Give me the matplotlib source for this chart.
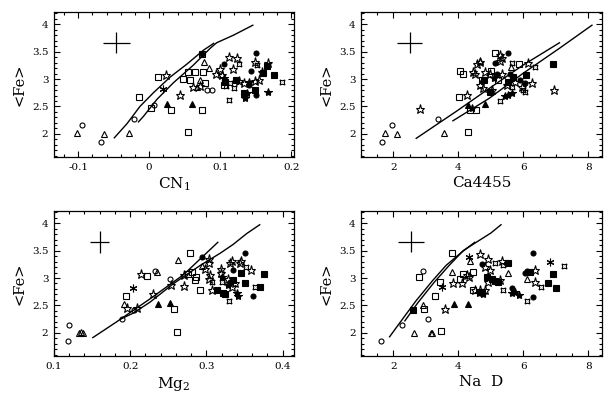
import matplotlib
matplotlib.use('Agg')
import matplotlib.pyplot as plt
from matplotlib.ticker import MultipleLocator

plt.rcParams['font.family'] = 'DejaVu Serif'

# ---- CN1 panel ----
cn1_open_circle = [(-0.068, 1.85), (-0.095, 2.16), (-0.022, 2.27), (0.007, 2.52), (0.082, 2.80), (0.088, 2.80)]
cn1_open_tri = [(-0.101, 2.01), (-0.064, 2.00), (-0.029, 2.01), (0.077, 3.31), (0.084, 3.20), (0.072, 2.98), (0.068, 2.86)]
cn1_fill_tri = [(0.025, 2.55), (0.060, 2.55)]
cn1_open_sq = [(-0.014, 2.68), (0.013, 3.04), (0.048, 3.00), (0.055, 3.12), (0.058, 2.99), (0.065, 3.13),
               (0.076, 3.13), (0.075, 3.46), (0.074, 2.44), (0.055, 2.03), (0.031, 2.43), (0.079, 2.93),
               (0.003, 2.47), (0.105, 2.89)]
cn1_open_star = [(0.024, 3.08), (0.043, 2.71), (0.062, 2.86), (0.071, 2.87), (0.094, 3.10), (0.100, 3.18),
                 (0.112, 3.41), (0.118, 3.18), (0.124, 3.38), (0.149, 3.31), (0.159, 3.13), (0.155, 2.98),
                 (0.127, 2.97), (0.133, 2.92), (0.102, 3.07), (0.149, 2.97), (0.167, 3.30)]
cn1_fill_star = [(0.167, 2.77), (0.138, 2.74), (0.135, 2.65), (0.141, 2.95), (0.105, 3.01)]
cn1_asterisk = [(0.019, 2.82)]
cn1_fill_circle = [(0.075, 3.45), (0.105, 3.27), (0.151, 3.47), (0.143, 3.15), (0.151, 2.71), (0.140, 2.89)]
cn1_fill_sq = [(0.107, 2.95), (0.166, 3.24), (0.161, 3.11), (0.176, 3.07), (0.149, 2.80), (0.133, 2.74), (0.122, 2.98)]
cn1_cross = [(0.126, 3.27), (0.187, 2.95), (0.114, 2.92), (0.119, 2.83), (0.113, 2.61), (0.152, 3.25), (0.108, 2.88)]
cn1_model_a = ([-0.049, -0.031, -0.013, 0.006, 0.030, 0.053, 0.077, 0.091],
               [1.93, 2.19, 2.50, 2.75, 3.04, 3.27, 3.53, 3.65])
cn1_model_b = ([-0.015, -0.008, 0.011, 0.034, 0.062, 0.086, 0.095, 0.119, 0.146],
               [2.22, 2.32, 2.63, 2.93, 3.25, 3.56, 3.66, 3.80, 3.98])
cn1_err = (-0.046, 3.66, 0.019, 0.19)

# ---- Ca4455 panel ----
ca_open_circle = [(1.66, 1.85), (1.94, 2.16), (3.38, 2.27)]
ca_open_tri = [(1.73, 2.01), (2.10, 1.99), (3.57, 2.01), (4.65, 3.32), (5.62, 3.22)]
ca_fill_tri = [(4.30, 2.52), (4.82, 2.54)]
ca_open_sq = [(4.01, 2.68), (4.05, 3.15), (5.13, 3.47), (4.34, 2.44), (4.55, 2.44), (4.28, 2.03), (4.72, 2.99),
              (5.23, 2.99), (5.87, 3.27), (4.15, 3.09), (5.00, 3.15)]
ca_open_star = [(2.83, 2.45), (4.26, 2.71), (4.44, 3.13), (4.51, 3.10), (4.57, 3.27), (4.67, 3.31), (4.82, 3.13),
                (4.98, 3.10), (4.65, 2.89), (4.77, 2.83), (5.03, 2.80), (5.28, 3.44), (5.33, 3.38), (5.28, 3.33),
                (6.14, 3.30), (6.95, 2.80), (5.95, 2.86), (6.26, 2.93), (5.49, 2.89), (5.75, 2.95), (5.33, 3.09)]
ca_fill_star = [(5.44, 2.69), (5.54, 2.71), (5.64, 2.74), (5.08, 3.01), (4.41, 2.47)]
ca_asterisk = []
ca_fill_circle = [(5.54, 3.47), (5.13, 3.29), (5.18, 3.10), (6.05, 2.92), (5.90, 2.99), (5.59, 3.10)]
ca_fill_sq = [(4.79, 2.99), (4.98, 2.77), (6.08, 3.07), (6.90, 3.27), (5.69, 3.03), (5.54, 2.95)]
ca_cross = [(5.64, 3.29), (6.36, 3.21), (5.28, 2.60), (6.05, 2.77), (6.00, 2.80), (5.64, 2.86)]
ca_model_a = ([2.70, 3.93, 4.95, 5.98, 7.11], [1.92, 2.41, 2.83, 3.25, 3.66])
ca_model_b = ([3.83, 4.95, 5.98, 7.11, 8.11], [2.24, 2.65, 3.10, 3.56, 3.98])
ca_err = (2.50, 3.66, 0.38, 0.19)

# ---- Mg2 panel ----
mg_open_circle = [(0.119, 1.85), (0.120, 2.15), (0.189, 2.26), (0.205, 2.42), (0.232, 3.13), (0.252, 2.99)]
mg_open_tri = [(0.133, 2.00), (0.136, 2.01), (0.138, 2.00), (0.192, 2.52), (0.263, 3.32), (0.294, 3.21), (0.235, 3.11)]
mg_fill_tri = [(0.236, 2.53), (0.252, 2.55)]
mg_open_sq = [(0.194, 2.68), (0.222, 3.03), (0.258, 2.44), (0.261, 2.02), (0.279, 3.45), (0.291, 2.78),
              (0.285, 2.96), (0.287, 3.02), (0.276, 3.08), (0.281, 3.11)]
mg_open_star = [(0.196, 2.46), (0.209, 2.46), (0.214, 3.07), (0.230, 2.70), (0.253, 2.87), (0.271, 2.85),
                (0.270, 3.05), (0.298, 3.17), (0.303, 2.99), (0.305, 3.05), (0.304, 3.35), (0.303, 3.27),
                (0.319, 3.17), (0.319, 3.09), (0.307, 2.78), (0.331, 3.27), (0.333, 3.31), (0.344, 3.27),
                (0.346, 3.31), (0.358, 3.15), (0.329, 2.99), (0.338, 2.90), (0.333, 2.84)]
mg_fill_star = [(0.320, 3.01), (0.340, 2.72), (0.342, 2.67), (0.329, 2.87)]
mg_asterisk = [(0.204, 2.82)]
mg_fill_circle = [(0.294, 3.39), (0.351, 3.46), (0.335, 3.14), (0.361, 2.67), (0.331, 2.93)]
mg_fill_sq = [(0.345, 3.09), (0.375, 3.07), (0.351, 2.90), (0.370, 2.83), (0.314, 2.78), (0.322, 2.73),
              (0.324, 2.70), (0.335, 2.96)]
mg_cross = [(0.352, 3.20), (0.307, 2.93), (0.364, 2.83), (0.330, 2.59), (0.320, 2.93)]
mg_model_a = ([0.151, 0.182, 0.226, 0.270, 0.315], [1.915, 2.20, 2.62, 3.06, 3.65])
mg_model_b = ([0.187, 0.204, 0.226, 0.257, 0.292, 0.318, 0.335, 0.353, 0.370],
              [2.25, 2.36, 2.56, 2.90, 3.23, 3.45, 3.61, 3.81, 3.97])
mg_err = (0.160, 3.66, 0.0125, 0.20)

# ---- Na D panel ----
nad_open_circle = [(1.61, 1.85), (2.26, 2.15), (3.05, 2.26), (2.90, 3.13)]
nad_open_tri = [(2.63, 1.99), (3.16, 1.99), (3.20, 2.00), (2.92, 2.50), (3.80, 3.11), (4.36, 3.31), (5.51, 3.09),
                (6.10, 2.99)]
nad_fill_tri = [(3.86, 2.53), (4.28, 2.53)]
nad_open_sq = [(3.80, 3.46), (2.80, 3.02), (3.29, 2.68), (3.45, 2.03), (2.95, 2.43), (4.05, 2.99), (3.44, 2.93),
               (4.46, 3.11), (4.15, 3.08), (4.46, 2.79)]
nad_open_star = [(3.59, 2.44), (3.83, 2.90), (4.67, 3.44), (4.92, 3.35), (4.82, 3.20), (4.98, 3.14), (5.34, 3.31),
                 (6.36, 3.14), (6.36, 2.93), (4.26, 3.05), (4.32, 3.02), (4.51, 2.79), (4.65, 2.79), (4.82, 2.78),
                 (4.92, 2.93), (5.28, 2.96), (4.10, 2.90)]
nad_fill_star = [(5.74, 2.75), (5.85, 2.69), (5.64, 2.72), (4.62, 2.72), (4.77, 2.70)]
nad_asterisk = [(4.31, 3.39), (3.49, 2.84), (6.82, 3.29)]
nad_fill_circle = [(4.72, 3.26), (6.31, 3.46), (6.10, 3.13), (6.31, 2.65), (5.64, 2.81), (6.05, 3.10)]
nad_fill_sq = [(2.59, 2.41), (5.54, 3.27), (6.92, 3.07), (6.77, 2.91), (7.00, 2.81), (4.87, 3.02), (5.03, 2.99),
               (5.13, 2.95), (5.23, 2.93), (4.72, 2.75), (6.21, 3.11)]
nad_cross = [(5.13, 3.27), (5.38, 3.23), (6.53, 2.84), (6.12, 2.59), (5.38, 2.78), (7.26, 3.21)]
nad_model_a = ([1.88, 2.30, 2.70, 3.20, 3.62, 4.10, 4.50], [1.93, 2.27, 2.59, 2.95, 3.23, 3.47, 3.65])
nad_model_b = ([2.35, 2.75, 3.25, 3.70, 4.15, 4.60, 5.00, 5.31], [2.22, 2.55, 2.92, 3.22, 3.50, 3.67, 3.82, 3.97])
nad_err = (2.55, 3.66, 0.40, 0.19)

# marker styles, in drawing order
styles = [
    dict(marker='o', ms=3.6, mfc='none'),
    dict(marker='^', ms=4.2, mfc='none'),
    dict(marker='^', ms=4.2, mfc='k'),
    dict(marker='s', ms=4.0, mfc='none'),
    dict(marker='*', ms=6.5, mfc='none'),
    dict(marker='*', ms=6.0, mfc='k'),
    dict(marker=(6, 2, 0), ms=5.5, mfc='k'),
    dict(marker='o', ms=3.6, mfc='k'),
    dict(marker='s', ms=4.0, mfc='k'),
    dict(marker=(4, 1, 45), ms=5.0, mfc='none'),
]

panels = [
    dict(pos=[0.0882, 0.6045, 0.3922, 0.3652], xlim=(-0.134, 0.204), xmin=0.02,
         xticks=[-0.1, 0, 0.1, 0.2], xlabels=['-0.1', '0', '0.1', '0.2'], xlabel='CN$_1$',
         groups=[cn1_open_circle, cn1_open_tri, cn1_fill_tri, cn1_open_sq, cn1_open_star, cn1_fill_star,
                 cn1_asterisk, cn1_fill_circle, cn1_fill_sq, cn1_cross],
         models=[cn1_model_a, cn1_model_b], err=cn1_err),
    dict(pos=[0.5899, 0.6045, 0.3938, 0.3652], xlim=(1.0, 8.42), xmin=0.5,
         xticks=[2, 4, 6, 8], xlabels=['2', '4', '6', '8'], xlabel='Ca4455',
         groups=[ca_open_circle, ca_open_tri, ca_fill_tri, ca_open_sq, ca_open_star, ca_fill_star,
                 ca_asterisk, ca_fill_circle, ca_fill_sq, ca_cross],
         models=[ca_model_a, ca_model_b], err=ca_err),
    dict(pos=[0.0882, 0.1033, 0.3922, 0.3652], xlim=(0.1, 0.415), xmin=0.02,
         xticks=[0.1, 0.2, 0.3, 0.4], xlabels=['0.1', '0.2', '0.3', '0.4'], xlabel='Mg$_2$',
         groups=[mg_open_circle, mg_open_tri, mg_fill_tri, mg_open_sq, mg_open_star, mg_fill_star,
                 mg_asterisk, mg_fill_circle, mg_fill_sq, mg_cross],
         models=[mg_model_a, mg_model_b], err=mg_err),
    dict(pos=[0.5899, 0.1033, 0.3938, 0.3652], xlim=(1.0, 8.42), xmin=0.5,
         xticks=[2, 4, 6, 8], xlabels=['2', '4', '6', '8'], xlabel='Na  D',
         groups=[nad_open_circle, nad_open_tri, nad_fill_tri, nad_open_sq, nad_open_star, nad_fill_star,
                 nad_asterisk, nad_fill_circle, nad_fill_sq, nad_cross],
         models=[nad_model_a, nad_model_b], err=nad_err),
]

plt.rcParams['mathtext.fontset'] = 'dejavuserif'

fig = plt.figure(figsize=(6.12, 3.97), dpi=100)

for p in panels:
    ax = fig.add_axes(p['pos'])
    for mx, my in p['models']:
        ax.plot(mx, my, color='k', lw=1.0)
    for pts, st in zip(p['groups'], styles):
        if not pts:
            continue
        xs, ys = zip(*pts)
        ax.plot(xs, ys, ls='none', color='k', mec='k', mew=0.8, **st)
    ex, ey, exe, eye = p['err']
    ax.errorbar([ex], [ey], xerr=[exe], yerr=[eye], fmt='none', ecolor='k', elinewidth=0.9, capsize=0)

    ax.set_xlim(*p['xlim'])
    ax.set_ylim(1.58, 4.22)
    ax.set_xticks(p['xticks'])
    ax.set_xticklabels(p['xlabels'])
    ax.set_yticks([2, 2.5, 3, 3.5, 4])
    ax.set_yticklabels(['2', '2.5', '3', '3.5', '4'])
    ax.xaxis.set_minor_locator(MultipleLocator(p['xmin']))
    ax.yaxis.set_minor_locator(MultipleLocator(0.1))
    ax.tick_params(which='both', direction='in', top=True, right=True, labelsize=7.5, width=0.8, pad=4)
    ax.tick_params(which='major', length=4.5)
    ax.tick_params(which='minor', length=2.5)
    for s in ax.spines.values():
        s.set_linewidth(0.9)
    ax.set_xlabel(p['xlabel'], fontsize=11, labelpad=3)
    ax.set_ylabel('<Fe>', fontsize=10.5, labelpad=4)

fig.savefig('out.png', dpi=100)
